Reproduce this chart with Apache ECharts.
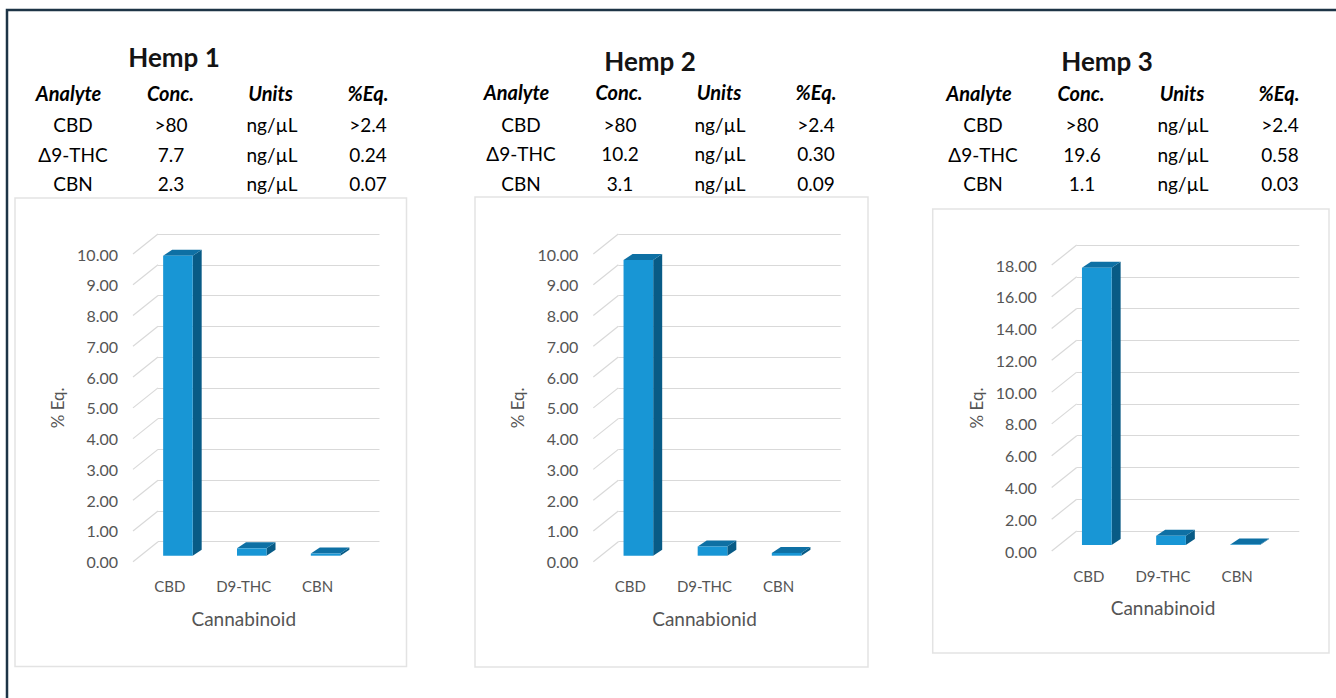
<!DOCTYPE html>
<html>
<head>
<meta charset="utf-8">
<title>Hemp cannabinoid profiles</title>
<script src="https://cdn.jsdelivr.net/npm/echarts@6/dist/echarts.min.js"></script>
<style>
  html, body { margin: 0; padding: 0; background: #ffffff; }
  #chart { width: 1336px; height: 698px; }
</style>
</head>
<body>
<div id="chart"></div>
<script>
// ---- data ----
const panelTitles = ['Hemp 1', 'Hemp 2', 'Hemp 3'];
const tableHeaders = ['Analyte', 'Conc.', 'Units', '%Eq.'];
const analytes = ['CBD', 'Δ9-THC', 'CBN'];
const concUnit = 'ng/µL';
const concHemp1 = ['>80', '7.7', '2.3'];
const concHemp2 = ['>80', '10.2', '3.1'];
const concHemp3 = ['>80', '19.6', '1.1'];
const eqTextHemp1 = ['>2.4', '0.24', '0.07'];
const eqTextHemp2 = ['>2.4', '0.30', '0.09'];
const eqTextHemp3 = ['>2.4', '0.58', '0.03'];

const categories = ['CBD', 'D9-THC', 'CBN'];
const pctEqHemp1 = [9.75, 0.24, 0.07];
const pctEqHemp2 = [9.61, 0.30, 0.09];
const pctEqHemp3 = [17.45, 0.58, 0.03];

const yMaxes = [10, 10, 18];
const ySteps = [1, 1, 2];
const yAxisName = '% Eq.';
const xAxisNames = ['Cannabinoid', 'Cannabionid', 'Cannabinoid'];

// ---- layout & style ----
const FONT = 'Lato';
const FRONT = '#1896d5';
const SIDE = '#085b86';
const TOP = '#0e70a4';
const GRID_LINE = '#d9d9d9';
const AXIS_TEXT = '#555555';
const DEPTH = [25, -20];          // floor/wall depth offset of the 3D box
const BAR_SHIFT = [8, -6];        // bar front face sits a third into the box
const BAR_DEPTH = [9, -6];        // bar thickness

// front plane of each plot (x, top, width, height)
const frontGrids = [
  { left: 133, top: 254, width: 221.5, height: 307.7 },
  { left: 593.3, top: 254, width: 222.4, height: 307.7 },
  { left: 1051.7, top: 265, width: 222.6, height: 286 }
];
const panelBoxes = [
  { x: 15, y: 198, w: 391.5, h: 468.5 },
  { x: 475, y: 197, w: 393, h: 470 },
  { x: 932.7, y: 209, w: 396.3, h: 444 }
];
const titlePos = [[174, 57], [650, 61], [1107, 61]];
const headerX = [[68.5, 170.5, 270.5, 368], [516.5, 619, 719, 816], [979, 1081, 1182, 1279]];
const cellX = [[73, 171, 272, 368], [521, 620, 720, 816], [983, 1082, 1183, 1280]];
const headerY = [93, 92, 93];
const rowY = [[124, 154, 183], [124, 153, 183], [124, 154, 183]];

const concs = [concHemp1, concHemp2, concHemp3];
const eqTexts = [eqTextHemp1, eqTextHemp2, eqTextHemp3];
const pctEq = [pctEqHemp1, pctEqHemp2, pctEqHemp3];

const chart = echarts.init(document.getElementById('chart'), null, { renderer: 'svg' });

const grids = [], xAxes = [], yAxes = [], series = [], graphics = [];

// outer frame
graphics.push({
  type: 'polyline', z: 1,
  shape: { points: [[7, 698], [7, 10], [1336, 10]] },
  style: { stroke: '#1d3446', lineWidth: 2.5, fill: 'none' }
});

for (let p = 0; p < 3; p++) {
  const g = frontGrids[p];
  const box = panelBoxes[p];

  // panel frame
  graphics.push({
    type: 'rect', z: 0,
    shape: { x: box.x, y: box.y, width: box.w, height: box.h },
    style: { fill: '#ffffff', stroke: '#e3e3e3', lineWidth: 1.5 }
  });

  // title and table
  graphics.push({
    type: 'text', z: 5,
    style: {
      x: titlePos[p][0], y: titlePos[p][1], text: panelTitles[p],
      font: 'bold 26px ' + FONT, fill: '#141414', align: 'center', verticalAlign: 'middle'
    }
  });
  tableHeaders.forEach((h, c) => {
    graphics.push({
      type: 'text', z: 5,
      style: {
        x: headerX[p][c], y: headerY[p], text: h,
        font: 'italic bold 20px ' + FONT, fill: '#000000', align: 'center', verticalAlign: 'middle'
      }
    });
  });
  analytes.forEach((a, r) => {
    const cells = [a, concs[p][r], concUnit, eqTexts[p][r]];
    cells.forEach((txt, c) => {
      graphics.push({
        type: 'text', z: 5,
        style: {
          x: cellX[p][c], y: rowY[p][r], text: txt,
          font: '19px ' + FONT, fill: '#000000', align: 'center', verticalAlign: 'middle'
        }
      });
    });
  });

  // front plane grid (labels, bars) and back wall grid (gridlines)
  const fi = 2 * p, bi = 2 * p + 1;
  grids.push({ left: g.left, top: g.top, width: g.width, height: g.height, containLabel: false });
  grids.push({ left: g.left + DEPTH[0], top: g.top + DEPTH[1], width: g.width, height: g.height, containLabel: false });

  xAxes.push({
    type: 'category', gridIndex: fi, data: categories, boundaryGap: true,
    axisLine: { show: false }, axisTick: { show: false },
    axisLabel: { color: AXIS_TEXT, fontFamily: FONT, fontSize: 15, margin: 17 },
    name: xAxisNames[p], nameLocation: 'middle', nameGap: 47,
    nameTextStyle: { color: AXIS_TEXT, fontFamily: FONT, fontSize: 19 }
  });
  xAxes.push({
    type: 'category', gridIndex: bi, data: categories, boundaryGap: true, show: false
  });

  yAxes.push({
    type: 'value', gridIndex: fi, min: 0, max: yMaxes[p], interval: ySteps[p],
    axisLine: { show: false }, axisTick: { show: false }, splitLine: { show: false },
    axisLabel: {
      color: AXIS_TEXT, fontFamily: FONT, fontSize: 16, margin: 15,
      formatter: v => v.toFixed(2)
    },
    name: yAxisName, nameLocation: 'middle', nameGap: 67, nameRotate: 90,
    nameTextStyle: { color: AXIS_TEXT, fontFamily: FONT, fontSize: 17 }
  });
  yAxes.push({
    type: 'value', gridIndex: bi, min: 0, max: yMaxes[p], interval: ySteps[p],
    axisLine: { show: false }, axisTick: { show: false }, axisLabel: { show: false },
    splitLine: { show: true, lineStyle: { color: GRID_LINE, width: 1.2 } }
  });

  // side-wall segments joining each tick on the front edge to the back wall
  const tickData = [];
  for (let v = 0; v <= yMaxes[p] + 1e-9; v += ySteps[p]) tickData.push([0, v]);
  series.push({
    type: 'custom', xAxisIndex: fi, yAxisIndex: fi, z: 1, silent: true,
    data: tickData, encode: { x: 0, y: 1 },
    renderItem: (params, api) => {
      const pt = api.coord([api.value(0), api.value(1)]);
      const xl = pt[0] - api.size([1, 0])[0] / 2;
      return {
        type: 'line',
        shape: { x1: xl, y1: pt[1], x2: xl + DEPTH[0], y2: pt[1] + DEPTH[1] },
        style: { stroke: GRID_LINE, lineWidth: 1.2 }
      };
    }
  });

  // 3D columns
  series.push({
    type: 'custom', xAxisIndex: fi, yAxisIndex: fi, z: 3,
    data: pctEq[p].map((v, i) => [i, v]), encode: { x: 0, y: 1 },
    renderItem: (params, api) => {
      const cat = api.value(0), val = api.value(1);
      const base = api.coord([cat, 0]);
      const top = api.coord([cat, val]);
      const bw = api.size([1, 0])[0] * 0.4;
      const x0 = base[0] - bw / 2 + BAR_SHIFT[0], x1 = x0 + bw;
      const yb = base[1] + BAR_SHIFT[1], yt = top[1] + BAR_SHIFT[1];
      const dx = BAR_DEPTH[0], dy = BAR_DEPTH[1];
      return {
        type: 'group',
        children: [
          { type: 'polygon', shape: { points: [[x1, yb], [x1 + dx, yb + dy], [x1 + dx, yt + dy], [x1, yt]] }, style: { fill: SIDE } },
          { type: 'polygon', shape: { points: [[x0, yt], [x1, yt], [x1 + dx, yt + dy], [x0 + dx, yt + dy]] }, style: { fill: TOP } },
          { type: 'rect', shape: { x: x0, y: yt, width: bw, height: yb - yt }, style: { fill: FRONT } }
        ]
      };
    }
  });
}

chart.setOption({
  backgroundColor: '#ffffff',
  animation: false,
  grid: grids,
  xAxis: xAxes,
  yAxis: yAxes,
  series: series,
  graphic: { elements: graphics }
});
</script>
</body>
</html>
